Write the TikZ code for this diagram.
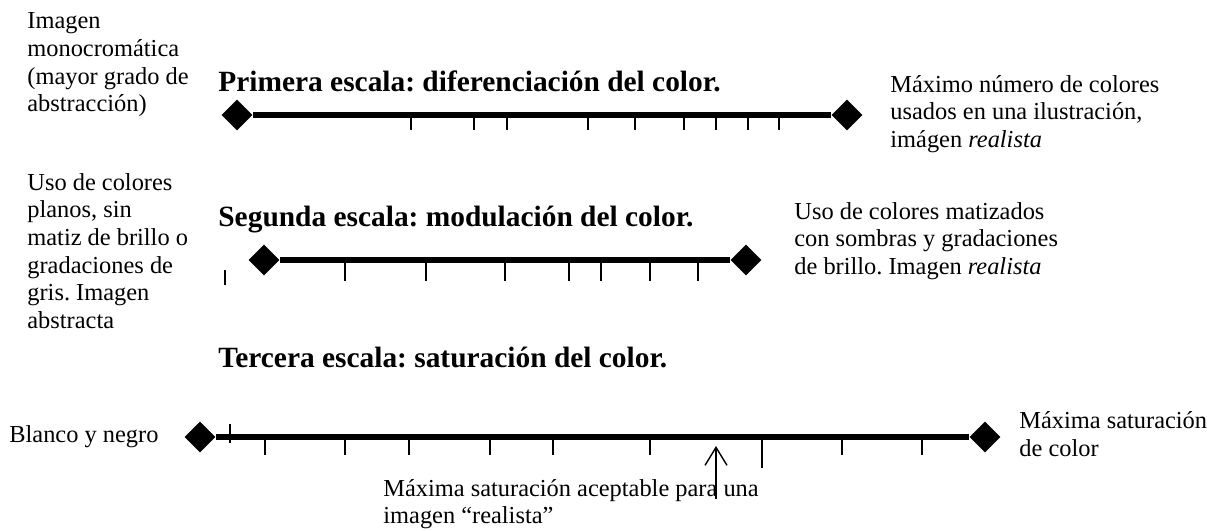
\documentclass[tikz,border=0pt]{standalone}
\usepackage{fontspec}
\setmainfont{Liberation Serif}
\usepackage{tikz}
\usetikzlibrary{shapes.geometric, arrows.meta, positioning}
\frenchspacing

\begin{document}
\begin{tikzpicture}[
        x=0.5pt, y=-0.5pt,
        rombo/.style={diamond, fill=black, draw=none, minimum size=15.5pt, inner sep=0pt, aspect=1},
        eje/.style={line width=2.6pt},
        marca/.style={line width=1.1pt},
        titulo/.style={anchor=west, inner sep=0pt, font=\bfseries\fontsize{14.7}{17}\selectfont},
        nota/.style={anchor=west, inner sep=0pt, align=left, font=\fontsize{12.2}{13.8}\selectfont},
        flecha/.style={-{Straight Barb[length=9pt, width=11pt]}, line width=0.7pt}
    ]
    \useasboundingbox (0,0) rectangle (1209,530);

    % Primera escala
    \node[nota] (izq1) at (27,65) {Imagen\\monocromática\\(mayor grado de\\abstracción)};
    \node[titulo] (tit1) at (218,81) {Primera escala: diferenciación del color.};
    \node[rombo] (a1) at (237,115) {};
    \node[rombo] (b1) at (847,115) {};
    \node[nota] (der1) at (890,114) {Máximo número de colores\\usados en una ilustración,\\imágen \textit{realista}};
    \draw[eje] (a1) -- (b1);
    \foreach \x in {411,474,507,588,635,684,716,748,779}
        \draw[marca] (\x,115) -- ++(0,15);

    % Segunda escala
    \node[nota] (izq2) at (27,251) {Uso de colores\\planos, sin\\matiz de brillo o\\gradaciones de\\gris. Imagen\\abstracta};
    \node[titulo] (tit2) at (218,220) {Segunda escala: modulación del color.};
    \node[rombo] (a2) at (264,260) {};
    \node[rombo] (b2) at (746,260) {};
    \node[nota] (der2) at (794,241) {Uso de colores matizados\\con sombras y gradaciones\\de brillo. Imagen \textit{realista}};
    \draw[eje] (a2) -- (b2);
    \foreach \x in {345,426,505,569,601,650,698}
        \draw[marca] (\x,260) -- ++(0,21);
    \draw[marca] (225,270) -- (225,285);

    % Tercera escala
    \node[titulo] (tit3) at (218,357) {Tercera escala: saturación del color.};
    \node[nota] (izq3) at (9,437) {Blanco y negro};
    \node[rombo] (a3) at (200,437) {};
    \node[rombo] (b3) at (985,437) {};
    \node[nota] (der3) at (1019,434) {Máxima saturación\\de color};
    \draw[eje] (a3) -- (b3);
    \foreach \x in {265,345,409,490,553,650,842,922}
        \draw[marca] (\x,437) -- ++(0,18);
    \draw[marca] (762,437) -- ++(0,31);
    \draw[marca] (230,424) -- (230,443);

    \node[nota] (limite) at (383,504) {Máxima saturación aceptable para una\\imagen “realista”};
    \coordinate (pie) at (716,499);
    \coordinate (punta) at (716,446);
    \draw[flecha] (pie) -- (punta);
\end{tikzpicture}
\end{document}
